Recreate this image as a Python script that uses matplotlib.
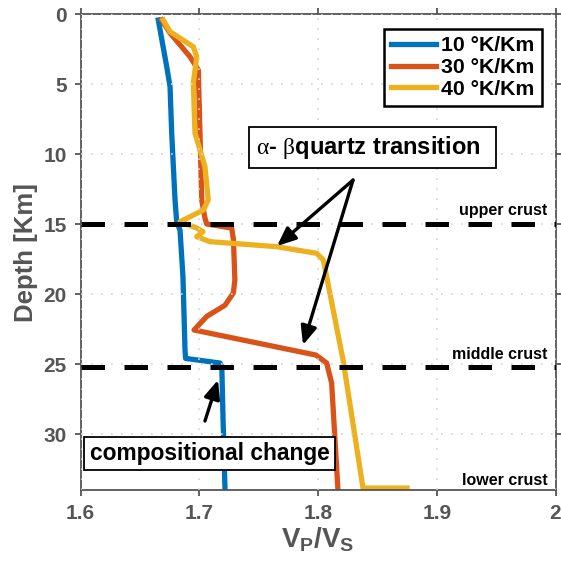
import matplotlib
matplotlib.use('Agg')
import matplotlib.pyplot as plt

plt.rcParams['font.family'] = ['Liberation Sans', 'DejaVu Sans']
plt.rcParams['mathtext.fontset'] = 'custom'
plt.rcParams['mathtext.rm'] = 'Liberation Serif:weight=normal'
plt.rcParams['mathtext.it'] = 'Liberation Serif:italic'
plt.rcParams['mathtext.bf'] = 'Liberation Sans:bold'

# Vp/Vs profiles vs depth
vpvs_10 = [1.6655, 1.6726, 1.6754, 1.6768, 1.6796, 1.681, 1.6838, 1.6863, 1.688, 1.6885,
           1.7175, 1.719, 1.720, 1.7217]
depth_10 = [0.43, 3.76, 5.19, 8.5, 13.29, 14.84, 15.43, 18.79, 24.0, 24.6,
            24.93, 25.2, 28.8, 34.0]

vpvs_30 = [1.6684, 1.6754, 1.6922, 1.6992, 1.7006, 1.7021, 1.7048, 1.7063, 1.7273, 1.7288,
           1.730, 1.7287, 1.7217, 1.7063, 1.6956, 1.7983, 1.8073, 1.8115, 1.8168]
depth_30 = [0.43, 1.36, 3.05, 4.0, 8.5, 13.29, 14.57, 15.0, 15.29, 16.1,
            19.0, 19.93, 20.8, 21.6, 22.57, 24.36, 24.93, 26.36, 34.0]

vpvs_40 = [1.6697, 1.6754, 1.695, 1.6979, 1.695, 1.6964, 1.7048, 1.7076, 1.7034, 1.6838,
           1.6979, 1.7032, 1.6979, 1.709, 1.7652, 1.7989, 1.8045, 1.8211, 1.8379, 1.875]
depth_40 = [0.43, 1.26, 2.34, 3.05, 4.93, 8.5, 10.9, 13.29, 14.0, 14.84,
            15.29, 15.55, 15.9, 16.26, 16.62, 17.09, 17.57, 24.71, 33.86, 33.86]

labels = ['10 °K/Km', '30 °K/Km', '40 °K/Km']
colors = ['#0072BD', '#D95319', '#EDB120']

boundaries = [15.0, 25.2]
crust_names = ['upper crust', 'middle crust', 'lower crust']
crust_label_depth = [14.0, 24.3, 33.3]

fig = plt.figure(figsize=(5.61, 5.65), dpi=100)
ax = fig.add_axes([0.1435, 0.1327, 0.8467, 0.8425])

ax.plot(vpvs_10, depth_10, color=colors[0], lw=3.8, label=labels[0])
ax.plot(vpvs_30, depth_30, color=colors[1], lw=3.8, label=labels[1])
ax.plot(vpvs_40, depth_40, color=colors[2], lw=3.8, label=labels[2])

for b in boundaries:
    ax.plot([1.6, 2.0], [b, b], color='black', lw=3.6, linestyle=(0, (4.7, 3.9)), zorder=3)

for name, d in zip(crust_names, crust_label_depth):
    ax.text(1.993, d, name, ha='right', va='center', fontsize=11.5, fontweight='bold')

ax.set_xlim(1.6, 2.0)
ax.set_ylim(34, 0)
ax.set_xticks([1.6, 1.7, 1.8, 1.9, 2.0])
ax.set_xticklabels(['1.6', '1.7', '1.8', '1.9', '2'])
ax.set_yticks([0, 5, 10, 15, 20, 25, 30])

ax.grid(True, linestyle=(0, (1, 5)), color='#d4d4d4', lw=1.2)
ax.set_axisbelow(False)

gray = '#555555'
for s in ax.spines.values():
    s.set_color(gray)
    s.set_linewidth(1.3)
ax.tick_params(direction='out', length=4, width=1.3, color=gray, labelcolor=gray,
               labelsize=15, top=True, right=True, pad=6)
for t in ax.get_xticklabels() + ax.get_yticklabels():
    t.set_fontweight('bold')

ax.set_ylabel('Depth [Km]', fontsize=18.5, fontweight='bold', color=gray, labelpad=4)
ax.set_xlabel(r'$\mathbf{V_P/V_S}$', fontsize=20, color=gray, labelpad=2)

leg = ax.legend(loc='upper right', bbox_to_anchor=(0.9716, 0.9685), borderaxespad=0,
                fontsize=15.3, handlelength=2.1, handletextpad=0.25, labelspacing=0.12,
                borderpad=0.35, fancybox=False, framealpha=1, edgecolor='black')
leg.get_frame().set_linewidth(1.8)
for t in leg.get_texts():
    t.set_fontweight('bold')

arrow = dict(arrowstyle='-|>,head_length=0.7,head_width=0.3', color='black', lw=2.4,
             mutation_scale=16, shrinkA=0, shrinkB=0)
ax.annotate('', xy=(1.7655, 16.57), xytext=(1.8295, 11.86), arrowprops=arrow)
ax.annotate('', xy=(1.7874, 23.64), xytext=(1.8295, 11.86), arrowprops=arrow)
ax.annotate('', xy=(1.7158, 26.14), xytext=(1.7048, 29.07), arrowprops=arrow)

ax.text(1.8459, 9.55, r'$\mathrm{\alpha}$- $\mathrm{\beta}$quartz transition  ',
        ha='center', va='center', fontsize=17, fontweight='bold', zorder=10,
        bbox=dict(boxstyle='square,pad=0.3', fc='white', ec='black', lw=1.3))
ax.text(1.7086, 31.39, 'compositional change', ha='center', va='center',
        fontsize=16.4, fontweight='bold', zorder=10,
        bbox=dict(boxstyle='square,pad=0.24', fc='white', ec='black', lw=1.3))

fig.savefig('out.png', dpi=100)
